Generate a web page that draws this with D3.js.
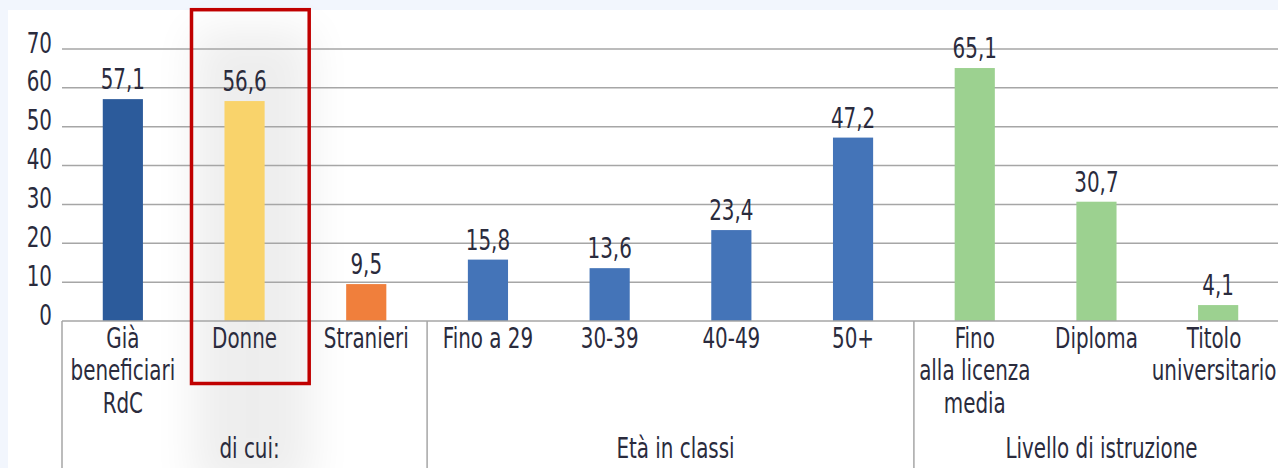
<!DOCTYPE html>
<html>
<head>
<meta charset="utf-8">
<script src="https://cdn.jsdelivr.net/npm/d3@7/dist/d3.min.js"></script>
<style>
  html, body { margin: 0; padding: 0; background: #f2f6fd; }
  svg { display: block; }
  text { font-family: "DejaVu Sans Condensed", "Liberation Sans Narrow", sans-serif; fill: #2a2b3d; }
</style>
</head>
<body>
<svg id="chart" width="1278" height="468"></svg>
<script>
// ---- data ----
const categoryLines = [
  ["Già", "beneficiari", "RdC"],
  ["Donne"],
  ["Stranieri"],
  ["Fino a 29"],
  ["30-39"],
  ["40-49"],
  ["50+"],
  ["Fino", "alla licenza", "media"],
  ["Diploma"],
  ["Titolo", "universitario"]
];
const values = [57.1, 56.6, 9.5, 15.8, 13.6, 23.4, 47.2, 65.1, 30.7, 4.1];
const groupLabels = ["di cui:", "Età in classi", "Livello di istruzione"];
const groupSizes = [3, 4, 3];
const yTicks = [0, 10, 20, 30, 40, 50, 60, 70];
const highlightIndex = 1;

// ---- styles ----
const palette = ["#2c5b9b", "#f9d36b", "#f07f3c", "#4474b8", "#4474b8", "#4474b8", "#4474b8", "#9cd190", "#9cd190", "#9cd190"];
const W = 1278, H = 468;
const plotLeft = 62, plotRight = 1279, plotTop = 49, plotBottom = 321;
const FS = 28, SX = 0.79;

const svg = d3.select("#chart");

const defs = svg.append("defs");
const blur = defs.append("filter").attr("id", "shadow")
  .attr("x", "-50%").attr("y", "-50%").attr("width", "200%").attr("height", "200%");
blur.append("feGaussianBlur").attr("stdDeviation", 22);

// panel
svg.append("rect").attr("x", 8).attr("y", 10).attr("width", W - 8).attr("height", H - 10).attr("fill", "#ffffff");

const x = d3.scaleBand().domain(d3.range(values.length)).range([plotLeft, plotRight]).padding(0);
const y = d3.scaleLinear().domain([0, 70]).range([plotBottom, plotTop]);
const bw = x.bandwidth() * 0.33;

// shadow behind highlight
svg.append("rect")
  .attr("x", x(highlightIndex) + 10).attr("y", 30)
  .attr("width", x.bandwidth() - 4).attr("height", 460)
  .attr("fill", "#000").attr("opacity", 0.065)
  .attr("filter", "url(#shadow)");

// gridlines
svg.append("g").selectAll("line").data(yTicks.filter(d => d > 0)).join("line")
  .attr("x1", plotLeft).attr("x2", W)
  .attr("y1", d => y(d)).attr("y2", d => y(d))
  .attr("stroke", "#a6a6a6").attr("stroke-width", 1.5);

// y axis labels
const yAxis = d3.axisLeft(y).tickValues(yTicks).tickSize(0).tickPadding(10).tickFormat(d3.format("d"));
const ya = svg.append("g").attr("transform", `translate(${plotLeft},0)`).call(yAxis);
ya.select(".domain").remove();
ya.attr("font-family", null).attr("font-size", null);
ya.selectAll("text")
  .attr("x", 0).attr("y", 0).attr("dy", null)
  .attr("text-anchor", "end")
  .attr("font-size", FS)
  .attr("transform", `translate(-10,3) scale(${SX},1)`);

// bars
svg.append("g").selectAll("rect").data(values).join("rect")
  .attr("x", (d, i) => x(i) + (x.bandwidth() - bw) / 2)
  .attr("y", d => y(d))
  .attr("width", bw)
  .attr("height", d => plotBottom - y(d))
  .attr("fill", (d, i) => palette[i]);

// value labels
svg.append("g").selectAll("text").data(values).join("text")
  .attr("transform", (d, i) => `translate(${x(i) + x.bandwidth() / 2},${y(d) - 10}) scale(${SX},1)`)
  .attr("text-anchor", "middle")
  .attr("font-size", FS)
  .text(d => d3.format(".1f")(d).replace(".", ","));

// x axis baseline
svg.append("line").attr("x1", plotLeft).attr("x2", W).attr("y1", plotBottom).attr("y2", plotBottom)
  .attr("stroke", "#a6a6a6").attr("stroke-width", 1.5);

// group separators
let starts = [];
let acc = 0;
groupSizes.forEach(s => { starts.push(acc); acc += s; });
svg.append("g").selectAll("line").data(starts).join("line")
  .attr("x1", d => x(d)).attr("x2", d => x(d))
  .attr("y1", plotBottom).attr("y2", H)
  .attr("stroke", "#a6a6a6").attr("stroke-width", 1.5);

// category labels
const cat = svg.append("g").selectAll("text").data(categoryLines).join("text")
  .attr("text-anchor", "middle")
  .attr("font-size", FS)
  .attr("transform", (d, i) => `translate(${Math.min(x(i) + x.bandwidth() / 2, 1214)},348) scale(${SX},1)`);
cat.each(function(lines) {
  d3.select(this).selectAll("tspan").data(lines).join("tspan")
    .attr("x", 0)
    .attr("y", (l, j) => j * 32.5)
    .text(l => l);
});

// group labels
svg.append("g").selectAll("text").data(groupLabels).join("text")
  .attr("transform", (d, g) => `translate(${(x(starts[g]) + x(starts[g] + groupSizes[g] - 1) + x.bandwidth()) / 2 + 5},458) scale(${SX},1)`)
  .attr("text-anchor", "middle")
  .attr("font-size", FS)
  .text(d => d);

// highlight box
svg.append("rect")
  .attr("x", x(highlightIndex) + 7.8).attr("y", 9.7)
  .attr("width", x.bandwidth() - 4).attr("height", 373.8)
  .attr("fill", "none").attr("stroke", "#c00000").attr("stroke-width", 3.5);
</script>
</body>
</html>
